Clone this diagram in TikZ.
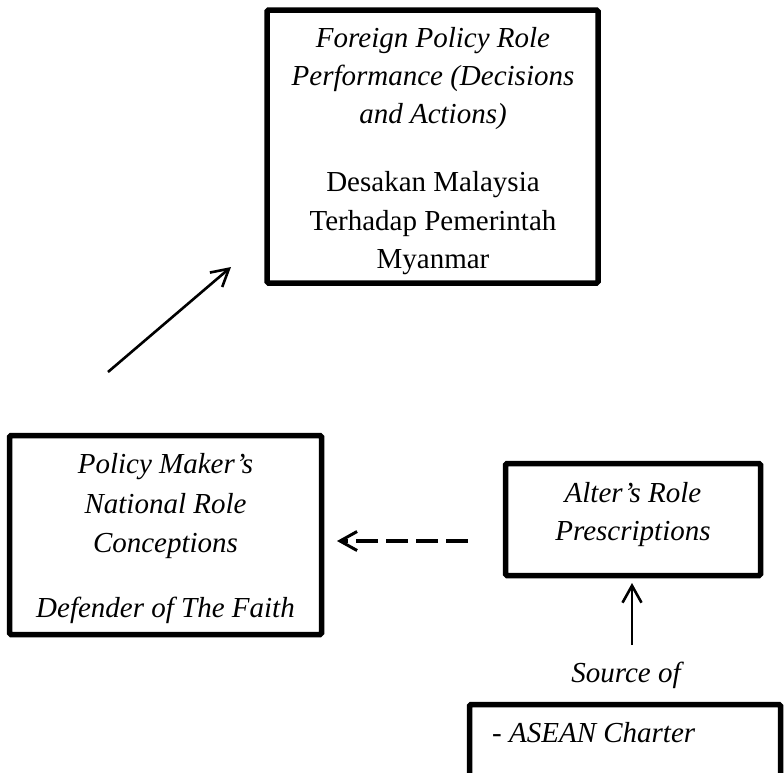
\documentclass[tikz,border=0pt]{standalone}
\usepackage{fontspec}
\setmainfont{Liberation Serif}
\usetikzlibrary{arrows.meta}
\tikzset{
  box/.style={draw=black, line width=5.5pt, rectangle, rounded corners=1.5pt, inner sep=0pt, outer sep=0pt, fill=none},
  txt/.style={anchor=base, inner sep=0pt, font=\fontsize{29}{38}\selectfont\itshape},
  txtup/.style={anchor=base, inner sep=0pt, font=\fontsize{29}{38}\selectfont},
  arr/.style={line width=2.6pt, -{Straight Barb[length=17pt,width=19pt,line width=2.6pt]}},
  dasharr/.style={line width=3.2pt, dash pattern=on 22pt off 8pt, -{Straight Barb[length=17pt,width=19pt,line width=3pt]}},
}
\begin{document}
\begin{tikzpicture}[x=1pt,y=-1pt]
\useasboundingbox (0,0) rectangle (784,772);
\clip (0,0) rectangle (784,772);
% boxes
\node[box, minimum width=331pt, minimum height=273pt] (top) at (432.5,146.5) {};
\node[box, minimum width=312pt, minimum height=199pt] (left) at (165.5,535) {};
\node[box, minimum width=255pt, minimum height=112pt] (alter) at (633,519.5) {};
\node[box, minimum width=311pt, minimum height=130pt] (bottom) at (625,769.5) {};
% top box text
\node[txt] (t1) at (433,47) {Foreign Policy Role};
\node[txt] (t2) at (433,85) {Performance (Decisions};
\node[txt] (t3) at (433,123) {and Actions)};
\node[txtup] (t4) at (433,191) {Desakan Malaysia};
\node[txtup] (t5) at (433,230) {Terhadap Pemerintah};
\node[txtup] (t6) at (433,268) {Myanmar};
% left box text
\node[txt] (l1) at (165.5,473) {Policy Maker’s};
\node[txt] (l2) at (165.5,513) {National Role};
\node[txt] (l3) at (165.5,552) {Conceptions};
\node[txt] (l4) at (165.5,617) {Defender of The Faith};
% alter box text
\node[txt] (a1) at (633,502) {Alter’s Role};
\node[txt] (a2) at (633,540) {Prescriptions};
% source
\node[txt] (src) at (626,682) {Source of};
\node[txt, anchor=base west] (b1) at (492,742) {- ASEAN Charter};
% connectors
\coordinate (d1) at (108,372);
\coordinate (d2) at (231,267);
\draw[arr] (d1) -- (d2);
\coordinate (dy) at (0,541);
\draw[dasharr, shorten <=37.5pt, shorten >=15.5pt] (alter.west |- dy) -- (left.east |- dy);
\coordinate (vt) at (632,645);
\draw[arr, shorten >=7.5pt] (vt) -- (vt |- alter.south);
\end{tikzpicture}
\end{document}
